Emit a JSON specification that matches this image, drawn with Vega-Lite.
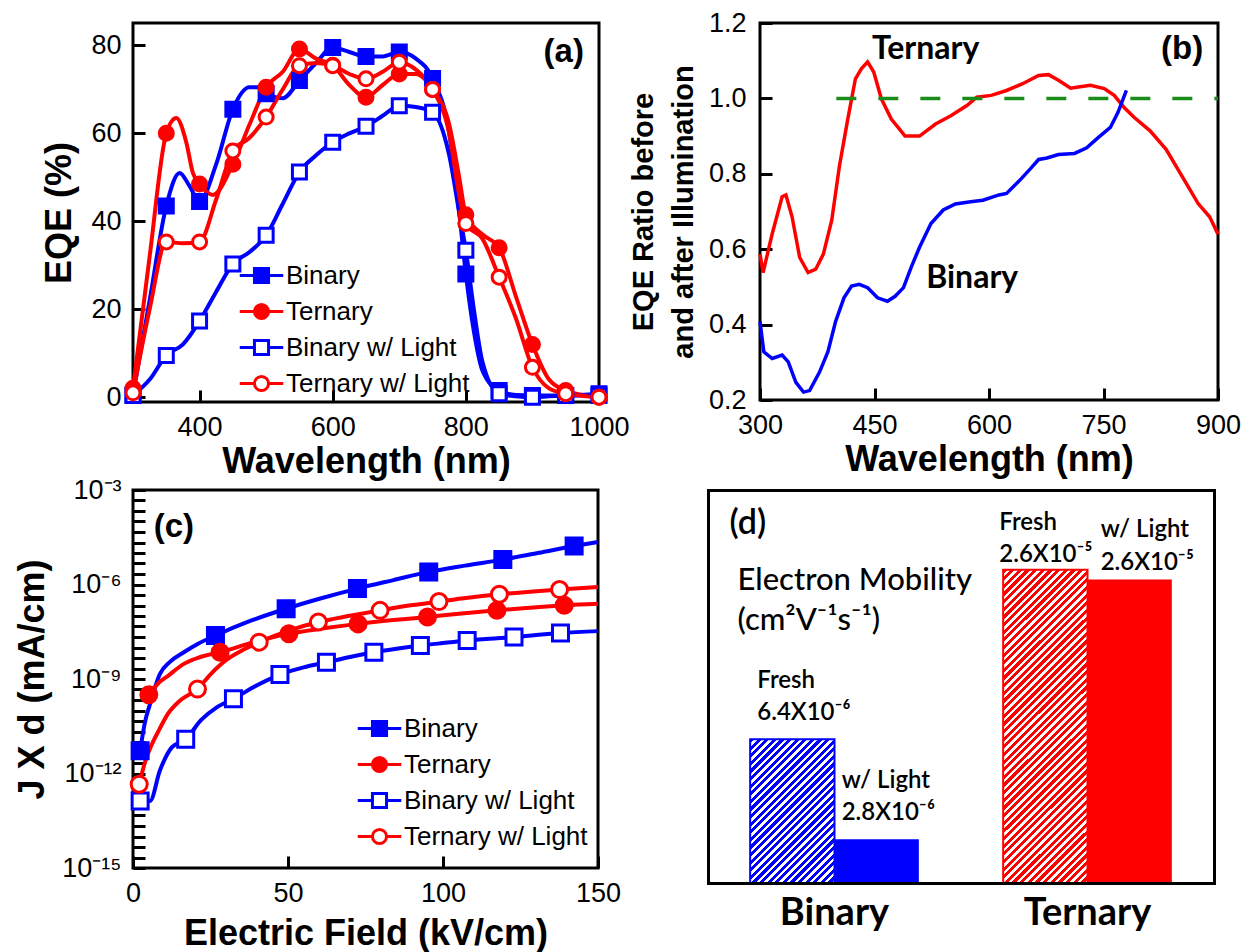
{
"$schema": "https://vega.github.io/schema/vega-lite/v6.json",
"padding": {"left": 13, "top": 7, "right": 5, "bottom": 5},
"background": "#ffffff",
"bounds": "flush",
"columns": 2,
"spacing": {"row": 88, "column": 161},
"resolve": {"scale": {"stroke": "independent", "color": "independent"}, "legend": {"stroke": "independent", "color": "independent"}},
"datasets": {
"a": [
{"series":"Binary","wl":300,"eqe":0.5},{"series":"Binary","wl":325,"eqe":22},{"series":"Binary","wl":350,"eqe":43.5},{"series":"Binary","wl":370,"eqe":51},{"series":"Binary","wl":385,"eqe":48},{"series":"Binary","wl":400,"eqe":44.5},{"series":"Binary","wl":425,"eqe":53},{"series":"Binary","wl":450,"eqe":65.5},{"series":"Binary","wl":475,"eqe":70.5},{"series":"Binary","wl":490,"eqe":70.5},{"series":"Binary","wl":500,"eqe":69},{"series":"Binary","wl":525,"eqe":68},{"series":"Binary","wl":550,"eqe":72},{"series":"Binary","wl":575,"eqe":76},{"series":"Binary","wl":600,"eqe":79.5},{"series":"Binary","wl":625,"eqe":78.5},{"series":"Binary","wl":650,"eqe":77.5},{"series":"Binary","wl":675,"eqe":77.5},{"series":"Binary","wl":700,"eqe":78.5},{"series":"Binary","wl":725,"eqe":77},{"series":"Binary","wl":750,"eqe":72.5},{"series":"Binary","wl":775,"eqe":60},{"series":"Binary","wl":790,"eqe":42},{"series":"Binary","wl":800,"eqe":28},{"series":"Binary","wl":812,"eqe":15},{"series":"Binary","wl":825,"eqe":6},{"series":"Binary","wl":850,"eqe":1.5},{"series":"Binary","wl":875,"eqe":0.5},{"series":"Binary","wl":900,"eqe":0.4},{"series":"Binary","wl":950,"eqe":0.4},{"series":"Binary","wl":1000,"eqe":0.8},
{"series":"Ternary","wl":300,"eqe":2},{"series":"Ternary","wl":325,"eqe":32},{"series":"Ternary","wl":350,"eqe":60},{"series":"Ternary","wl":365,"eqe":63.5},{"series":"Ternary","wl":380,"eqe":58},{"series":"Ternary","wl":390,"eqe":51},{"series":"Ternary","wl":400,"eqe":48.5},{"series":"Ternary","wl":420,"eqe":46},{"series":"Ternary","wl":450,"eqe":53},{"series":"Ternary","wl":475,"eqe":62},{"series":"Ternary","wl":500,"eqe":70.5},{"series":"Ternary","wl":525,"eqe":74},{"series":"Ternary","wl":550,"eqe":79.2},{"series":"Ternary","wl":575,"eqe":77},{"series":"Ternary","wl":600,"eqe":75.5},{"series":"Ternary","wl":625,"eqe":71},{"series":"Ternary","wl":650,"eqe":68.2},{"series":"Ternary","wl":675,"eqe":71},{"series":"Ternary","wl":700,"eqe":73.5},{"series":"Ternary","wl":725,"eqe":73.5},{"series":"Ternary","wl":750,"eqe":70},{"series":"Ternary","wl":775,"eqe":62},{"series":"Ternary","wl":790,"eqe":50},{"series":"Ternary","wl":800,"eqe":41.5},{"series":"Ternary","wl":825,"eqe":37},{"series":"Ternary","wl":850,"eqe":34},{"series":"Ternary","wl":875,"eqe":23},{"series":"Ternary","wl":900,"eqe":12},{"series":"Ternary","wl":925,"eqe":4},{"series":"Ternary","wl":950,"eqe":1.5},{"series":"Ternary","wl":975,"eqe":0.5},{"series":"Ternary","wl":1000,"eqe":0},
{"series":"Binary w/ Light","wl":300,"eqe":0.4},{"series":"Binary w/ Light","wl":325,"eqe":4},{"series":"Binary w/ Light","wl":350,"eqe":9.5},{"series":"Binary w/ Light","wl":375,"eqe":12},{"series":"Binary w/ Light","wl":400,"eqe":17.3},{"series":"Binary w/ Light","wl":425,"eqe":24},{"series":"Binary w/ Light","wl":450,"eqe":30.3},{"series":"Binary w/ Light","wl":475,"eqe":33},{"series":"Binary w/ Light","wl":500,"eqe":36.8},{"series":"Binary w/ Light","wl":525,"eqe":44},{"series":"Binary w/ Light","wl":550,"eqe":51.2},{"series":"Binary w/ Light","wl":575,"eqe":55},{"series":"Binary w/ Light","wl":600,"eqe":58},{"series":"Binary w/ Light","wl":625,"eqe":60},{"series":"Binary w/ Light","wl":650,"eqe":61.6},{"series":"Binary w/ Light","wl":675,"eqe":64},{"series":"Binary w/ Light","wl":700,"eqe":66.3},{"series":"Binary w/ Light","wl":725,"eqe":66},{"series":"Binary w/ Light","wl":750,"eqe":64.8},{"series":"Binary w/ Light","wl":775,"eqe":55},{"series":"Binary w/ Light","wl":790,"eqe":42},{"series":"Binary w/ Light","wl":800,"eqe":33.4},{"series":"Binary w/ Light","wl":812,"eqe":20},{"series":"Binary w/ Light","wl":825,"eqe":8},{"series":"Binary w/ Light","wl":850,"eqe":0.8},{"series":"Binary w/ Light","wl":875,"eqe":0.2},{"series":"Binary w/ Light","wl":900,"eqe":0},{"series":"Binary w/ Light","wl":950,"eqe":0.4},{"series":"Binary w/ Light","wl":1000,"eqe":0.4},
{"series":"Ternary w/ Light","wl":300,"eqe":1},{"series":"Ternary w/ Light","wl":325,"eqe":20},{"series":"Ternary w/ Light","wl":350,"eqe":35.3},{"series":"Ternary w/ Light","wl":375,"eqe":35},{"series":"Ternary w/ Light","wl":400,"eqe":35.3},{"series":"Ternary w/ Light","wl":425,"eqe":45},{"series":"Ternary w/ Light","wl":450,"eqe":56},{"series":"Ternary w/ Light","wl":475,"eqe":59},{"series":"Ternary w/ Light","wl":500,"eqe":63.7},{"series":"Ternary w/ Light","wl":525,"eqe":70},{"series":"Ternary w/ Light","wl":550,"eqe":75.4},{"series":"Ternary w/ Light","wl":575,"eqe":76},{"series":"Ternary w/ Light","wl":600,"eqe":75.4},{"series":"Ternary w/ Light","wl":625,"eqe":73.5},{"series":"Ternary w/ Light","wl":650,"eqe":72.4},{"series":"Ternary w/ Light","wl":675,"eqe":74},{"series":"Ternary w/ Light","wl":700,"eqe":76.2},{"series":"Ternary w/ Light","wl":725,"eqe":74.5},{"series":"Ternary w/ Light","wl":750,"eqe":70},{"series":"Ternary w/ Light","wl":775,"eqe":60},{"series":"Ternary w/ Light","wl":790,"eqe":46},{"series":"Ternary w/ Light","wl":800,"eqe":39.5},{"series":"Ternary w/ Light","wl":825,"eqe":36},{"series":"Ternary w/ Light","wl":850,"eqe":27.3},{"series":"Ternary w/ Light","wl":875,"eqe":18},{"series":"Ternary w/ Light","wl":900,"eqe":6.8},{"series":"Ternary w/ Light","wl":925,"eqe":2},{"series":"Ternary w/ Light","wl":950,"eqe":0.8},{"series":"Ternary w/ Light","wl":1000,"eqe":0}
],
"b": [
{"series":"Ternary","wl":300,"r":0.587},{"series":"Ternary","wl":304,"r":0.538},{"series":"Ternary","wl":316,"r":0.641},{"series":"Ternary","wl":329,"r":0.739},{"series":"Ternary","wl":334,"r":0.744},{"series":"Ternary","wl":342,"r":0.686},{"series":"Ternary","wl":352,"r":0.578},{"series":"Ternary","wl":363,"r":0.538},{"series":"Ternary","wl":373,"r":0.547},{"series":"Ternary","wl":383,"r":0.587},{"series":"Ternary","wl":394,"r":0.677},{"series":"Ternary","wl":404,"r":0.82},{"series":"Ternary","wl":415,"r":0.945},{"series":"Ternary","wl":425,"r":1.052},{"series":"Ternary","wl":433,"r":1.079},{"series":"Ternary","wl":441,"r":1.097},{"series":"Ternary","wl":449,"r":1.07},{"series":"Ternary","wl":459,"r":0.999},{"series":"Ternary","wl":472,"r":0.945},{"series":"Ternary","wl":483,"r":0.918},{"series":"Ternary","wl":490,"r":0.9},{"series":"Ternary","wl":509,"r":0.9},{"series":"Ternary","wl":530,"r":0.932},{"series":"Ternary","wl":550,"r":0.954},{"series":"Ternary","wl":571,"r":0.981},{"series":"Ternary","wl":584,"r":1.003},{"series":"Ternary","wl":603,"r":1.008},{"series":"Ternary","wl":623,"r":1.021},{"series":"Ternary","wl":644,"r":1.039},{"series":"Ternary","wl":665,"r":1.061},{"series":"Ternary","wl":678,"r":1.063},{"series":"Ternary","wl":691,"r":1.048},{"series":"Ternary","wl":707,"r":1.027},{"series":"Ternary","wl":717,"r":1.03},{"series":"Ternary","wl":733,"r":1.035},{"series":"Ternary","wl":751,"r":1.026},{"series":"Ternary","wl":764,"r":1.008},{"series":"Ternary","wl":777,"r":0.976},{"series":"Ternary","wl":790,"r":0.95},{"series":"Ternary","wl":811,"r":0.914},{"series":"Ternary","wl":832,"r":0.865},{"series":"Ternary","wl":853,"r":0.793},{"series":"Ternary","wl":874,"r":0.721},{"series":"Ternary","wl":889,"r":0.686},{"series":"Ternary","wl":900,"r":0.64},
{"series":"Binary","wl":300,"r":0.408},{"series":"Binary","wl":305,"r":0.328},{"series":"Binary","wl":316,"r":0.31},{"series":"Binary","wl":329,"r":0.319},{"series":"Binary","wl":337,"r":0.301},{"series":"Binary","wl":347,"r":0.247},{"series":"Binary","wl":357,"r":0.221},{"series":"Binary","wl":365,"r":0.225},{"series":"Binary","wl":378,"r":0.274},{"series":"Binary","wl":389,"r":0.328},{"series":"Binary","wl":399,"r":0.408},{"series":"Binary","wl":410,"r":0.471},{"series":"Binary","wl":420,"r":0.502},{"series":"Binary","wl":430,"r":0.507},{"series":"Binary","wl":441,"r":0.498},{"series":"Binary","wl":454,"r":0.471},{"series":"Binary","wl":467,"r":0.462},{"series":"Binary","wl":477,"r":0.475},{"series":"Binary","wl":488,"r":0.498},{"series":"Binary","wl":498,"r":0.552},{"series":"Binary","wl":509,"r":0.605},{"series":"Binary","wl":524,"r":0.668},{"series":"Binary","wl":540,"r":0.704},{"series":"Binary","wl":556,"r":0.72},{"series":"Binary","wl":576,"r":0.726},{"series":"Binary","wl":592,"r":0.73},{"series":"Binary","wl":613,"r":0.744},{"series":"Binary","wl":623,"r":0.748},{"series":"Binary","wl":639,"r":0.78},{"series":"Binary","wl":655,"r":0.815},{"series":"Binary","wl":665,"r":0.838},{"series":"Binary","wl":676,"r":0.842},{"series":"Binary","wl":691,"r":0.851},{"series":"Binary","wl":712,"r":0.854},{"series":"Binary","wl":728,"r":0.869},{"series":"Binary","wl":743,"r":0.896},{"series":"Binary","wl":759,"r":0.923},{"series":"Binary","wl":769,"r":0.963},{"series":"Binary","wl":780,"r":1.021}
],
"c_line": [
{"series":"Binary","e":2.3,"j":5.25e-12},{"series":"Binary","e":3.8,"j":3.98e-11},{"series":"Binary","e":5.5,"j":1.62e-10},{"series":"Binary","e":8.7,"j":1.45e-9},{"series":"Binary","e":12,"j":3.55e-9},{"series":"Binary","e":16.4,"j":7.08e-9},{"series":"Binary","e":21,"j":1.32e-8},{"series":"Binary","e":26.6,"j":2.4e-8},{"series":"Binary","e":38,"j":7.08e-8},{"series":"Binary","e":49.4,"j":1.7e-7},{"series":"Binary","e":61,"j":3.72e-7},{"series":"Binary","e":72.4,"j":7.41e-7},{"series":"Binary","e":84,"j":1.38e-6},{"series":"Binary","e":95.4,"j":2.51e-6},{"series":"Binary","e":107,"j":3.98e-6},{"series":"Binary","e":119.3,"j":6.17e-6},{"series":"Binary","e":131,"j":1.02e-5},{"series":"Binary","e":142.3,"j":1.66e-5},{"series":"Binary","e":150,"j":2.24e-5},
{"series":"Ternary","e":5.1,"j":3.16e-10},{"series":"Ternary","e":8,"j":7.08e-10},{"series":"Ternary","e":11.3,"j":1.26e-9},{"series":"Ternary","e":16.4,"j":3.02e-9},{"series":"Ternary","e":21.5,"j":4.9e-9},{"series":"Ternary","e":28.1,"j":7.08e-9},{"series":"Ternary","e":39,"j":1.48e-8},{"series":"Ternary","e":50.3,"j":2.75e-8},{"series":"Ternary","e":61,"j":3.98e-8},{"series":"Ternary","e":72.6,"j":5.62e-8},{"series":"Ternary","e":84,"j":7.41e-8},{"series":"Ternary","e":95,"j":9.33e-8},{"series":"Ternary","e":106,"j":1.2e-7},{"series":"Ternary","e":117.4,"j":1.51e-7},{"series":"Ternary","e":128,"j":1.82e-7},{"series":"Ternary","e":139.1,"j":2.19e-7},{"series":"Ternary","e":150,"j":2.45e-7},
{"series":"Binary w/ Light","e":2.3,"j":1.35e-13},{"series":"Binary w/ Light","e":5.5,"j":1.35e-13},{"series":"Binary w/ Light","e":8.7,"j":1.26e-12},{"series":"Binary w/ Light","e":12.5,"j":6.76e-12},{"series":"Binary w/ Light","e":17,"j":1.23e-11},{"series":"Binary w/ Light","e":22,"j":5.01e-11},{"series":"Binary w/ Light","e":27,"j":1.26e-10},{"series":"Binary w/ Light","e":32.4,"j":2.34e-10},{"series":"Binary w/ Light","e":40,"j":6.31e-10},{"series":"Binary w/ Light","e":47.4,"j":1.38e-9},{"series":"Binary w/ Light","e":55,"j":2.34e-9},{"series":"Binary w/ Light","e":62.4,"j":3.39e-9},{"series":"Binary w/ Light","e":70,"j":5.01e-9},{"series":"Binary w/ Light","e":77.7,"j":7.08e-9},{"series":"Binary w/ Light","e":85,"j":9.12e-9},{"series":"Binary w/ Light","e":92.7,"j":1.15e-8},{"series":"Binary w/ Light","e":100,"j":1.38e-8},{"series":"Binary w/ Light","e":107.8,"j":1.66e-8},{"series":"Binary w/ Light","e":115,"j":1.91e-8},{"series":"Binary w/ Light","e":122.9,"j":2.14e-8},{"series":"Binary w/ Light","e":130,"j":2.51e-8},{"series":"Binary w/ Light","e":137.9,"j":2.88e-8},{"series":"Binary w/ Light","e":150,"j":3.31e-8},
{"series":"Ternary w/ Light","e":2,"j":4.57e-13},{"series":"Ternary w/ Light","e":4,"j":2.51e-12},{"series":"Ternary w/ Light","e":6.1,"j":8.51e-12},{"series":"Ternary w/ Light","e":8.5,"j":2.51e-11},{"series":"Ternary w/ Light","e":11.3,"j":7.94e-11},{"series":"Ternary w/ Light","e":15,"j":2e-10},{"series":"Ternary w/ Light","e":20.8,"j":4.79e-10},{"series":"Ternary w/ Light","e":25,"j":1.41e-9},{"series":"Ternary w/ Light","e":30,"j":3.98e-9},{"series":"Ternary w/ Light","e":35,"j":7.94e-9},{"series":"Ternary w/ Light","e":40.7,"j":1.48e-8},{"series":"Ternary w/ Light","e":50,"j":3.39e-8},{"series":"Ternary w/ Light","e":59.8,"j":6.46e-8},{"series":"Ternary w/ Light","e":70,"j":1.02e-7},{"series":"Ternary w/ Light","e":79.7,"j":1.51e-7},{"series":"Ternary w/ Light","e":89,"j":2.14e-7},{"series":"Ternary w/ Light","e":98.7,"j":2.88e-7},{"series":"Ternary w/ Light","e":108,"j":3.8e-7},{"series":"Ternary w/ Light","e":118.2,"j":4.9e-7},{"series":"Ternary w/ Light","e":128,"j":5.89e-7},{"series":"Ternary w/ Light","e":137.6,"j":6.92e-7},{"series":"Ternary w/ Light","e":150,"j":8.32e-7}
],
"c_pts": [
{"series":"Binary","e":2.3,"j":5.25e-12},{"series":"Binary","e":26.6,"j":2.4e-8},{"series":"Binary","e":49.4,"j":1.7e-7},{"series":"Binary","e":72.4,"j":7.41e-7},{"series":"Binary","e":95.4,"j":2.51e-6},{"series":"Binary","e":119.3,"j":6.17e-6},{"series":"Binary","e":142.3,"j":1.66e-5},
{"series":"Ternary","e":5.1,"j":3.16e-10},{"series":"Ternary","e":28.1,"j":7.08e-9},{"series":"Ternary","e":50.3,"j":2.75e-8},{"series":"Ternary","e":72.6,"j":5.62e-8},{"series":"Ternary","e":95,"j":9.33e-8},{"series":"Ternary","e":117.4,"j":1.51e-7},{"series":"Ternary","e":139.1,"j":2.19e-7},
{"series":"Binary w/ Light","e":2.3,"j":1.35e-13},{"series":"Binary w/ Light","e":17,"j":1.23e-11},{"series":"Binary w/ Light","e":32.4,"j":2.34e-10},{"series":"Binary w/ Light","e":47.4,"j":1.38e-9},{"series":"Binary w/ Light","e":62.4,"j":3.39e-9},{"series":"Binary w/ Light","e":77.7,"j":7.08e-9},{"series":"Binary w/ Light","e":92.7,"j":1.15e-8},{"series":"Binary w/ Light","e":107.8,"j":1.66e-8},{"series":"Binary w/ Light","e":122.9,"j":2.14e-8},{"series":"Binary w/ Light","e":137.9,"j":2.88e-8},
{"series":"Ternary w/ Light","e":2,"j":4.57e-13},{"series":"Ternary w/ Light","e":20.8,"j":4.79e-10},{"series":"Ternary w/ Light","e":40.7,"j":1.48e-8},{"series":"Ternary w/ Light","e":59.8,"j":6.46e-8},{"series":"Ternary w/ Light","e":79.7,"j":1.51e-7},{"series":"Ternary w/ Light","e":98.7,"j":2.88e-7},{"series":"Ternary w/ Light","e":118.2,"j":4.9e-7},{"series":"Ternary w/ Light","e":137.6,"j":6.92e-7}
],
"d": [
{"group":"Binary","cond":"Fresh","mu":6.4e-6,"label":"Fresh\n6.4X10⁻⁶"},
{"group":"Binary","cond":"w/ Light","mu":2.8e-6,"label":"w/ Light\n2.8X10⁻⁶"},
{"group":"Ternary","cond":"Fresh","mu":2.6e-5,"label":"Fresh\n2.6X10⁻⁵"},
{"group":"Ternary","cond":"w/ Light","mu":2.4e-5,"label":"w/ Light\n2.6X10⁻⁵"}
]
},
"concat": [
{
"width": 466, "height": 379,
"data": {"name": "a"},
"layer": [
{"mark": {"type": "line", "interpolate": "monotone", "strokeWidth": 4},
"encoding": {
"x": {"field": "wl", "type": "quantitative", "scale": {"domain": [300, 1000], "nice": false, "zero": false}, "axis": {"values": [400, 600, 800, 1000], "format": "d", "title": "Wavelength (nm)", "titlePadding": 4, "labelPadding": 12, "ticks": true, "tickSize": 12, "tickWidth": 3, "tickColor": "#000000", "encode": {"ticks": {"update": {"stroke": {"value": "#000000"}, "strokeWidth": {"value": 3}, "strokeOpacity": {"value": 1}, "opacity": {"value": 1}}}}}},
"y": {"field": "eqe", "type": "quantitative", "scale": {"domain": [-1.1, 85.1], "nice": false, "zero": false}, "axis": {"values": [0, 20, 40, 60, 80], "title": "EQE (%)", "titlePadding": 12, "labelPadding": 12, "ticks": true, "tickSize": 12, "tickWidth": 3, "tickColor": "#000000", "encode": {"ticks": {"update": {"stroke": {"value": "#000000"}, "strokeWidth": {"value": 3}, "strokeOpacity": {"value": 1}, "opacity": {"value": 1}}}}}},
"stroke": {"field": "series", "type": "nominal", "scale": {"domain": ["Binary", "Ternary", "Binary w/ Light", "Ternary w/ Light"], "range": ["#0000ff", "#ff0000", "#0000ff", "#ff0000"]},
"legend": {"orient": "none", "legendX": 112, "legendY": 236, "title": null, "labelFont": "Liberation Sans", "labelFontSize": 26, "labelColor": "#000000", "labelLimit": 400, "symbolSize": 900, "symbolStrokeWidth": 3, "labelOffset": 8, "rowPadding": 6, "padding": 0,
"encode": {"symbols": {"update": {
"shape": {"signal": "indexof(datum.value, 'Binary') === 0 ? 'M-1.45,0H-0.47M0.47,0H1.45M-0.47,-0.47H0.47V0.47H-0.47Z' : 'M-1.45,0H-0.47M0.47,0H1.45M0.47,0A0.47,0.47,0,1,1,-0.47,0A0.47,0.47,0,1,1,0.47,0Z'"},
"fill": {"signal": "datum.value === 'Binary' ? '#0000ff' : datum.value === 'Ternary' ? '#ff0000' : '#ffffff'"},
"stroke": {"signal": "indexof(datum.value, 'Binary') === 0 ? '#0000ff' : '#ff0000'"},
"strokeWidth": {"value": 3}, "opacity": {"value": 1}, "fillOpacity": {"value": 1}}}}}}
}},
{"transform": [{"filter": "datum.wl % 50 === 0 && datum.series === 'Binary'"}],
"mark": {"type": "point", "shape": "square", "size": 196, "strokeWidth": 3, "opacity": 1, "filled": true, "fill": "#0000ff", "stroke": "#0000ff"},
"encoding": {"x": {"field": "wl", "type": "quantitative"}, "y": {"field": "eqe", "type": "quantitative"}}},
{"transform": [{"filter": "datum.wl % 50 === 0 && datum.series === 'Binary w/ Light'"}],
"mark": {"type": "point", "shape": "square", "size": 196, "strokeWidth": 3, "opacity": 1, "filled": true, "fill": "#ffffff", "stroke": "#0000ff"},
"encoding": {"x": {"field": "wl", "type": "quantitative"}, "y": {"field": "eqe", "type": "quantitative"}}},
{"transform": [{"filter": "datum.wl % 50 === 0 && datum.series === 'Ternary'"}],
"mark": {"type": "point", "shape": "circle", "size": 196, "strokeWidth": 3, "opacity": 1, "filled": true, "fill": "#ff0000", "stroke": "#ff0000"},
"encoding": {"x": {"field": "wl", "type": "quantitative"}, "y": {"field": "eqe", "type": "quantitative"}}},
{"transform": [{"filter": "datum.wl % 50 === 0 && datum.series === 'Ternary w/ Light'"}],
"mark": {"type": "point", "shape": "circle", "size": 196, "strokeWidth": 3, "opacity": 1, "filled": true, "fill": "#ffffff", "stroke": "#ff0000"},
"encoding": {"x": {"field": "wl", "type": "quantitative"}, "y": {"field": "eqe", "type": "quantitative"}}},
{"data": {"values": [{}]},
"mark": {"type": "text", "font": "Liberation Sans", "fontSize": 33, "fontWeight": "bold", "align": "center", "baseline": "middle"},
"encoding": {"x": {"datum": 947, "type": "quantitative"}, "y": {"datum": 78.5, "type": "quantitative"}, "text": {"value": "(a)"}}}
]
},
{
"width": 458, "height": 377,
"data": {"name": "b"},
"layer": [
{"mark": {"type": "line", "strokeWidth": 3.5},
"encoding": {
"x": {"field": "wl", "type": "quantitative", "scale": {"domain": [300, 900], "nice": false, "zero": false}, "axis": {"values": [300, 450, 600, 750, 900], "title": "Wavelength (nm)", "titlePadding": 4, "labelPadding": 12, "ticks": true, "tickSize": 12, "tickWidth": 3, "tickColor": "#000000", "encode": {"ticks": {"update": {"stroke": {"value": "#000000"}, "strokeWidth": {"value": 3}, "strokeOpacity": {"value": 1}, "opacity": {"value": 1}}}}}},
"y": {"field": "r", "type": "quantitative", "scale": {"domain": [0.2, 1.2], "nice": false, "zero": false}, "axis": {"values": [0.2, 0.4, 0.6, 0.8, 1.0, 1.2], "format": ".1f", "title": ["EQE Ratio before", "and after Illumination"], "titleFontSize": 29, "titleLineHeight": 40, "titlePadding": 10, "labelPadding": 14, "ticks": true, "tickSize": 12, "tickWidth": 3, "tickColor": "#000000", "encode": {"ticks": {"update": {"stroke": {"value": "#000000"}, "strokeWidth": {"value": 3}, "strokeOpacity": {"value": 1}, "opacity": {"value": 1}}}}}},
"stroke": {"field": "series", "type": "nominal", "scale": {"domain": ["Ternary", "Binary"], "range": ["#ff0000", "#0000ff"]}, "legend": null}
}},
{"data": {"values": [{}]},
"mark": {"type": "rule", "strokeDash": [20, 22], "strokeWidth": 3.5, "color": "#1a8c1a"},
"encoding": {"x": {"datum": 400, "type": "quantitative"}, "x2": {"datum": 900}, "y": {"datum": 1, "type": "quantitative"}}},
{"data": {"values": [{}]},
"mark": {"type": "text", "font": "Lato", "fontSize": 32, "fontWeight": "bold", "align": "center", "baseline": "middle"},
"encoding": {"x": {"datum": 517, "type": "quantitative"}, "y": {"datum": 1.13, "type": "quantitative"}, "text": {"value": "Ternary"}}},
{"data": {"values": [{}]},
"mark": {"type": "text", "font": "Lato", "fontSize": 32, "fontWeight": "bold", "align": "center", "baseline": "middle"},
"encoding": {"x": {"datum": 578, "type": "quantitative"}, "y": {"datum": 0.524, "type": "quantitative"}, "text": {"value": "Binary"}}},
{"data": {"values": [{}]},
"mark": {"type": "text", "font": "Liberation Sans", "fontSize": 33, "fontWeight": "bold", "align": "center", "baseline": "middle"},
"encoding": {"x": {"datum": 853, "type": "quantitative"}, "y": {"datum": 1.13, "type": "quantitative"}, "text": {"value": "(b)"}}}
]
},
{
"width": 465, "height": 378,
"layer": [
{"data": {"name": "c_line"},
"mark": {"type": "line", "interpolate": "monotone", "strokeWidth": 4},
"encoding": {
"x": {"field": "e", "type": "quantitative", "scale": {"domain": [0, 150], "nice": false, "zero": false}, "axis": {"values": [0, 50, 100, 150], "title": "Electric Field (kV/cm)", "titlePadding": 10, "labelPadding": 12, "ticks": true, "tickSize": 12, "tickWidth": 3, "tickColor": "#000000", "encode": {"ticks": {"update": {"stroke": {"value": "#000000"}, "strokeWidth": {"value": 3}, "strokeOpacity": {"value": 1}, "opacity": {"value": 1}}}}}},
"y": {"field": "j", "type": "quantitative", "scale": {"type": "log", "domain": [1e-15, 1e-3], "nice": false}, "axis": {"values": [1e-15, 2.1544e-15, 4.6416e-15, 1e-14, 2.1544e-14, 4.6416e-14, 1e-13, 2.1544e-13, 4.6416e-13, 1e-12, 2.1544e-12, 4.6416e-12, 1e-11, 2.1544e-11, 4.6416e-11, 1e-10, 2.1544e-10, 4.6416e-10, 1e-9, 2.1544e-9, 4.6416e-9, 1e-8, 2.1544e-8, 4.6416e-8, 1e-7, 2.1544e-7, 4.6416e-7, 1e-6, 2.1544e-6, 4.6416e-6, 1e-5, 2.1544e-5, 4.6416e-5, 1e-4, 2.1544e-4, 4.6416e-4, 1e-3], "labelExpr": "datum.value > 9e-4 ? '10⁻³' : (datum.value > 9e-7 && datum.value < 1.1e-6) ? '10⁻⁶' : (datum.value > 9e-10 && datum.value < 1.1e-9) ? '10⁻⁹' : (datum.value > 9e-13 && datum.value < 1.1e-12) ? '10⁻¹²' : (datum.value < 1.1e-15) ? '10⁻¹⁵' : ''", "title": "J X d (mA/cm)", "titlePadding": 10, "labelPadding": 12, "ticks": true, "tickSize": 12, "tickWidth": 3, "tickColor": "#000000", "encode": {"ticks": {"update": {"stroke": {"value": "#000000"}, "strokeWidth": {"value": 3}, "strokeOpacity": {"value": 1}, "opacity": {"value": 1}}}}}},
"stroke": {"field": "series", "type": "nominal", "scale": {"domain": ["Binary", "Ternary", "Binary w/ Light", "Ternary w/ Light"], "range": ["#0000ff", "#ff0000", "#0000ff", "#ff0000"]},
"legend": {"orient": "none", "legendX": 230, "legendY": 222, "title": null, "labelFont": "Liberation Sans", "labelFontSize": 26, "labelColor": "#000000", "labelLimit": 400, "symbolSize": 900, "symbolStrokeWidth": 3, "labelOffset": 8, "rowPadding": 6, "padding": 0,
"encode": {"symbols": {"update": {
"shape": {"signal": "indexof(datum.value, 'Binary') === 0 ? 'M-1.45,0H-0.47M0.47,0H1.45M-0.47,-0.47H0.47V0.47H-0.47Z' : 'M-1.45,0H-0.47M0.47,0H1.45M0.47,0A0.47,0.47,0,1,1,-0.47,0A0.47,0.47,0,1,1,0.47,0Z'"},
"fill": {"signal": "datum.value === 'Binary' ? '#0000ff' : datum.value === 'Ternary' ? '#ff0000' : '#ffffff'"},
"stroke": {"signal": "indexof(datum.value, 'Binary') === 0 ? '#0000ff' : '#ff0000'"},
"strokeWidth": {"value": 3}, "opacity": {"value": 1}, "fillOpacity": {"value": 1}}}}}}
}},
{"data": {"name": "c_pts"},
"transform": [{"filter": "datum.series === 'Binary'"}],
"mark": {"type": "point", "shape": "square", "size": 256, "strokeWidth": 3, "opacity": 1, "filled": true, "fill": "#0000ff", "stroke": "#0000ff"},
"encoding": {"x": {"field": "e", "type": "quantitative"}, "y": {"field": "j", "type": "quantitative"}}},
{"data": {"name": "c_pts"},
"transform": [{"filter": "datum.series === 'Binary w/ Light'"}],
"mark": {"type": "point", "shape": "square", "size": 256, "strokeWidth": 3, "opacity": 1, "filled": true, "fill": "#ffffff", "stroke": "#0000ff"},
"encoding": {"x": {"field": "e", "type": "quantitative"}, "y": {"field": "j", "type": "quantitative"}}},
{"data": {"name": "c_pts"},
"transform": [{"filter": "datum.series === 'Ternary'"}],
"mark": {"type": "point", "shape": "circle", "size": 256, "strokeWidth": 3, "opacity": 1, "filled": true, "fill": "#ff0000", "stroke": "#ff0000"},
"encoding": {"x": {"field": "e", "type": "quantitative"}, "y": {"field": "j", "type": "quantitative"}}},
{"data": {"name": "c_pts"},
"transform": [{"filter": "datum.series === 'Ternary w/ Light'"}],
"mark": {"type": "point", "shape": "circle", "size": 256, "strokeWidth": 3, "opacity": 1, "filled": true, "fill": "#ffffff", "stroke": "#ff0000"},
"encoding": {"x": {"field": "e", "type": "quantitative"}, "y": {"field": "j", "type": "quantitative"}}},
{"data": {"values": [{}]},
"mark": {"type": "text", "font": "Liberation Sans", "fontSize": 33, "fontWeight": "bold", "align": "center", "baseline": "middle"},
"encoding": {"x": {"datum": 13.2, "type": "quantitative"}, "y": {"datum": 6.7e-5, "type": "quantitative"}, "text": {"value": "(c)"}}}
]
},
{
"width": 454, "height": 393,
"view": {"stroke": null},
"data": {"name": "d"},
"resolve": {"axis": {"x": "independent", "y": "independent"}},
"layer": [
{"transform": [{"filter": "datum.cond === 'w/ Light'"}],
"mark": {"type": "bar"},
"encoding": {
"x": {"field": "group", "type": "nominal", "scale": {"domain": ["Binary", "Ternary"], "range": [-52, 454], "paddingInner": 0, "paddingOuter": 0}, "axis": {"orient": "bottom", "offset": 0, "domain": true, "ticks": false, "tickSize": 0, "labels": true, "labelAngle": 0, "labelFont": "Lato", "labelFontSize": 38, "labelFontWeight": "bold", "labelPadding": 11, "title": null, "zindex": 2}},
"xOffset": {"field": "cond", "type": "nominal", "scale": {"domain": ["Fresh", "w/ Light"], "paddingInner": 0, "paddingOuter": 0.5}},
"y": {"field": "mu", "type": "quantitative", "scale": {"type": "log", "domain": [1.95e-6, 5.03e-5], "nice": false}, "axis": {"orient": "left", "offset": 52, "domain": true, "ticks": false, "tickSize": 0, "labels": false, "title": null, "zindex": 2}},
"y2": {"datum": 1.95e-6},
"color": {"field": "group", "type": "nominal", "scale": {"domain": ["Binary", "Ternary"], "range": ["#0000ff", "#ff0000"]}, "legend": null}
}},
{"transform": [{"filter": "datum.cond === 'Fresh' && datum.group === 'Binary'"}],
"mark": {"type": "bar", "stroke": "#0000ff", "strokeWidth": 2, "fill": {"gradient": "linear", "x1": 0, "y1": 0, "x2": 0.6925, "y2": 1.1804, "stops": [
{"offset":0,"color":"#00f"},{"offset":0.0183,"color":"#00f"},{"offset":0.0183,"color":"#fff"},{"offset":0.0333,"color":"#fff"},
{"offset":0.0333,"color":"#00f"},{"offset":0.0517,"color":"#00f"},{"offset":0.0517,"color":"#fff"},{"offset":0.0667,"color":"#fff"},
{"offset":0.0667,"color":"#00f"},{"offset":0.085,"color":"#00f"},{"offset":0.085,"color":"#fff"},{"offset":0.1,"color":"#fff"},
{"offset":0.1,"color":"#00f"},{"offset":0.1183,"color":"#00f"},{"offset":0.1183,"color":"#fff"},{"offset":0.1333,"color":"#fff"},
{"offset":0.1333,"color":"#00f"},{"offset":0.1517,"color":"#00f"},{"offset":0.1517,"color":"#fff"},{"offset":0.1667,"color":"#fff"},
{"offset":0.1667,"color":"#00f"},{"offset":0.185,"color":"#00f"},{"offset":0.185,"color":"#fff"},{"offset":0.2,"color":"#fff"},
{"offset":0.2,"color":"#00f"},{"offset":0.2183,"color":"#00f"},{"offset":0.2183,"color":"#fff"},{"offset":0.2333,"color":"#fff"},
{"offset":0.2333,"color":"#00f"},{"offset":0.2517,"color":"#00f"},{"offset":0.2517,"color":"#fff"},{"offset":0.2667,"color":"#fff"},
{"offset":0.2667,"color":"#00f"},{"offset":0.285,"color":"#00f"},{"offset":0.285,"color":"#fff"},{"offset":0.3,"color":"#fff"},
{"offset":0.3,"color":"#00f"},{"offset":0.3183,"color":"#00f"},{"offset":0.3183,"color":"#fff"},{"offset":0.3333,"color":"#fff"},
{"offset":0.3333,"color":"#00f"},{"offset":0.3517,"color":"#00f"},{"offset":0.3517,"color":"#fff"},{"offset":0.3667,"color":"#fff"},
{"offset":0.3667,"color":"#00f"},{"offset":0.385,"color":"#00f"},{"offset":0.385,"color":"#fff"},{"offset":0.4,"color":"#fff"},
{"offset":0.4,"color":"#00f"},{"offset":0.4183,"color":"#00f"},{"offset":0.4183,"color":"#fff"},{"offset":0.4333,"color":"#fff"},
{"offset":0.4333,"color":"#00f"},{"offset":0.4517,"color":"#00f"},{"offset":0.4517,"color":"#fff"},{"offset":0.4667,"color":"#fff"},
{"offset":0.4667,"color":"#00f"},{"offset":0.485,"color":"#00f"},{"offset":0.485,"color":"#fff"},{"offset":0.5,"color":"#fff"},
{"offset":0.5,"color":"#00f"},{"offset":0.5183,"color":"#00f"},{"offset":0.5183,"color":"#fff"},{"offset":0.5333,"color":"#fff"},
{"offset":0.5333,"color":"#00f"},{"offset":0.5517,"color":"#00f"},{"offset":0.5517,"color":"#fff"},{"offset":0.5667,"color":"#fff"},
{"offset":0.5667,"color":"#00f"},{"offset":0.585,"color":"#00f"},{"offset":0.585,"color":"#fff"},{"offset":0.6,"color":"#fff"},
{"offset":0.6,"color":"#00f"},{"offset":0.6183,"color":"#00f"},{"offset":0.6183,"color":"#fff"},{"offset":0.6333,"color":"#fff"},
{"offset":0.6333,"color":"#00f"},{"offset":0.6517,"color":"#00f"},{"offset":0.6517,"color":"#fff"},{"offset":0.6667,"color":"#fff"},
{"offset":0.6667,"color":"#00f"},{"offset":0.685,"color":"#00f"},{"offset":0.685,"color":"#fff"},{"offset":0.7,"color":"#fff"},
{"offset":0.7,"color":"#00f"},{"offset":0.7183,"color":"#00f"},{"offset":0.7183,"color":"#fff"},{"offset":0.7333,"color":"#fff"},
{"offset":0.7333,"color":"#00f"},{"offset":0.7517,"color":"#00f"},{"offset":0.7517,"color":"#fff"},{"offset":0.7667,"color":"#fff"},
{"offset":0.7667,"color":"#00f"},{"offset":0.785,"color":"#00f"},{"offset":0.785,"color":"#fff"},{"offset":0.8,"color":"#fff"},
{"offset":0.8,"color":"#00f"},{"offset":0.8183,"color":"#00f"},{"offset":0.8183,"color":"#fff"},{"offset":0.8333,"color":"#fff"},
{"offset":0.8333,"color":"#00f"},{"offset":0.8517,"color":"#00f"},{"offset":0.8517,"color":"#fff"},{"offset":0.8667,"color":"#fff"},
{"offset":0.8667,"color":"#00f"},{"offset":0.885,"color":"#00f"},{"offset":0.885,"color":"#fff"},{"offset":0.9,"color":"#fff"},
{"offset":0.9,"color":"#00f"},{"offset":0.9183,"color":"#00f"},{"offset":0.9183,"color":"#fff"},{"offset":0.9333,"color":"#fff"},
{"offset":0.9333,"color":"#00f"},{"offset":0.9517,"color":"#00f"},{"offset":0.9517,"color":"#fff"},{"offset":0.9667,"color":"#fff"},
{"offset":0.9667,"color":"#00f"},{"offset":0.985,"color":"#00f"},{"offset":0.985,"color":"#fff"},{"offset":1,"color":"#fff"}
]}},
"encoding": {
"x": {"field": "group", "type": "nominal", "axis": {"orient": "top", "offset": 0, "domain": true, "ticks": false, "tickSize": 0, "labels": false, "title": null, "zindex": 2}},
"xOffset": {"field": "cond", "type": "nominal"},
"y": {"field": "mu", "type": "quantitative", "axis": {"orient": "right", "offset": 0, "domain": true, "ticks": false, "tickSize": 0, "labels": false, "title": null, "zindex": 2}},
"y2": {"datum": 1.95e-6}
}},
{"transform": [{"filter": "datum.cond === 'Fresh' && datum.group === 'Ternary'"}],
"mark": {"type": "bar", "stroke": "#ff0000", "strokeWidth": 2, "fill": {"gradient": "linear", "x1": 0, "y1": 0, "x2": 0.3181, "y2": 1.1833, "stops": [
{"offset":0,"color":"#f00"},{"offset":0.0106,"color":"#f00"},{"offset":0.0106,"color":"#fff"},{"offset":0.0192,"color":"#fff"},
{"offset":0.0192,"color":"#f00"},{"offset":0.0298,"color":"#f00"},{"offset":0.0298,"color":"#fff"},{"offset":0.0385,"color":"#fff"},
{"offset":0.0385,"color":"#f00"},{"offset":0.049,"color":"#f00"},{"offset":0.049,"color":"#fff"},{"offset":0.0577,"color":"#fff"},
{"offset":0.0577,"color":"#f00"},{"offset":0.0683,"color":"#f00"},{"offset":0.0683,"color":"#fff"},{"offset":0.0769,"color":"#fff"},
{"offset":0.0769,"color":"#f00"},{"offset":0.0875,"color":"#f00"},{"offset":0.0875,"color":"#fff"},{"offset":0.0962,"color":"#fff"},
{"offset":0.0962,"color":"#f00"},{"offset":0.1067,"color":"#f00"},{"offset":0.1067,"color":"#fff"},{"offset":0.1154,"color":"#fff"},
{"offset":0.1154,"color":"#f00"},{"offset":0.126,"color":"#f00"},{"offset":0.126,"color":"#fff"},{"offset":0.1346,"color":"#fff"},
{"offset":0.1346,"color":"#f00"},{"offset":0.1452,"color":"#f00"},{"offset":0.1452,"color":"#fff"},{"offset":0.1538,"color":"#fff"},
{"offset":0.1538,"color":"#f00"},{"offset":0.1644,"color":"#f00"},{"offset":0.1644,"color":"#fff"},{"offset":0.1731,"color":"#fff"},
{"offset":0.1731,"color":"#f00"},{"offset":0.1837,"color":"#f00"},{"offset":0.1837,"color":"#fff"},{"offset":0.1923,"color":"#fff"},
{"offset":0.1923,"color":"#f00"},{"offset":0.2029,"color":"#f00"},{"offset":0.2029,"color":"#fff"},{"offset":0.2115,"color":"#fff"},
{"offset":0.2115,"color":"#f00"},{"offset":0.2221,"color":"#f00"},{"offset":0.2221,"color":"#fff"},{"offset":0.2308,"color":"#fff"},
{"offset":0.2308,"color":"#f00"},{"offset":0.2413,"color":"#f00"},{"offset":0.2413,"color":"#fff"},{"offset":0.25,"color":"#fff"},
{"offset":0.25,"color":"#f00"},{"offset":0.2606,"color":"#f00"},{"offset":0.2606,"color":"#fff"},{"offset":0.2692,"color":"#fff"},
{"offset":0.2692,"color":"#f00"},{"offset":0.2798,"color":"#f00"},{"offset":0.2798,"color":"#fff"},{"offset":0.2885,"color":"#fff"},
{"offset":0.2885,"color":"#f00"},{"offset":0.299,"color":"#f00"},{"offset":0.299,"color":"#fff"},{"offset":0.3077,"color":"#fff"},
{"offset":0.3077,"color":"#f00"},{"offset":0.3183,"color":"#f00"},{"offset":0.3183,"color":"#fff"},{"offset":0.3269,"color":"#fff"},
{"offset":0.3269,"color":"#f00"},{"offset":0.3375,"color":"#f00"},{"offset":0.3375,"color":"#fff"},{"offset":0.3462,"color":"#fff"},
{"offset":0.3462,"color":"#f00"},{"offset":0.3567,"color":"#f00"},{"offset":0.3567,"color":"#fff"},{"offset":0.3654,"color":"#fff"},
{"offset":0.3654,"color":"#f00"},{"offset":0.376,"color":"#f00"},{"offset":0.376,"color":"#fff"},{"offset":0.3846,"color":"#fff"},
{"offset":0.3846,"color":"#f00"},{"offset":0.3952,"color":"#f00"},{"offset":0.3952,"color":"#fff"},{"offset":0.4038,"color":"#fff"},
{"offset":0.4038,"color":"#f00"},{"offset":0.4144,"color":"#f00"},{"offset":0.4144,"color":"#fff"},{"offset":0.4231,"color":"#fff"},
{"offset":0.4231,"color":"#f00"},{"offset":0.4337,"color":"#f00"},{"offset":0.4337,"color":"#fff"},{"offset":0.4423,"color":"#fff"},
{"offset":0.4423,"color":"#f00"},{"offset":0.4529,"color":"#f00"},{"offset":0.4529,"color":"#fff"},{"offset":0.4615,"color":"#fff"},
{"offset":0.4615,"color":"#f00"},{"offset":0.4721,"color":"#f00"},{"offset":0.4721,"color":"#fff"},{"offset":0.4808,"color":"#fff"},
{"offset":0.4808,"color":"#f00"},{"offset":0.4913,"color":"#f00"},{"offset":0.4913,"color":"#fff"},{"offset":0.5,"color":"#fff"},
{"offset":0.5,"color":"#f00"},{"offset":0.5106,"color":"#f00"},{"offset":0.5106,"color":"#fff"},{"offset":0.5192,"color":"#fff"},
{"offset":0.5192,"color":"#f00"},{"offset":0.5298,"color":"#f00"},{"offset":0.5298,"color":"#fff"},{"offset":0.5385,"color":"#fff"},
{"offset":0.5385,"color":"#f00"},{"offset":0.549,"color":"#f00"},{"offset":0.549,"color":"#fff"},{"offset":0.5577,"color":"#fff"},
{"offset":0.5577,"color":"#f00"},{"offset":0.5683,"color":"#f00"},{"offset":0.5683,"color":"#fff"},{"offset":0.5769,"color":"#fff"},
{"offset":0.5769,"color":"#f00"},{"offset":0.5875,"color":"#f00"},{"offset":0.5875,"color":"#fff"},{"offset":0.5962,"color":"#fff"},
{"offset":0.5962,"color":"#f00"},{"offset":0.6067,"color":"#f00"},{"offset":0.6067,"color":"#fff"},{"offset":0.6154,"color":"#fff"},
{"offset":0.6154,"color":"#f00"},{"offset":0.626,"color":"#f00"},{"offset":0.626,"color":"#fff"},{"offset":0.6346,"color":"#fff"},
{"offset":0.6346,"color":"#f00"},{"offset":0.6452,"color":"#f00"},{"offset":0.6452,"color":"#fff"},{"offset":0.6538,"color":"#fff"},
{"offset":0.6538,"color":"#f00"},{"offset":0.6644,"color":"#f00"},{"offset":0.6644,"color":"#fff"},{"offset":0.6731,"color":"#fff"},
{"offset":0.6731,"color":"#f00"},{"offset":0.6837,"color":"#f00"},{"offset":0.6837,"color":"#fff"},{"offset":0.6923,"color":"#fff"},
{"offset":0.6923,"color":"#f00"},{"offset":0.7029,"color":"#f00"},{"offset":0.7029,"color":"#fff"},{"offset":0.7115,"color":"#fff"},
{"offset":0.7115,"color":"#f00"},{"offset":0.7221,"color":"#f00"},{"offset":0.7221,"color":"#fff"},{"offset":0.7308,"color":"#fff"},
{"offset":0.7308,"color":"#f00"},{"offset":0.7413,"color":"#f00"},{"offset":0.7413,"color":"#fff"},{"offset":0.75,"color":"#fff"},
{"offset":0.75,"color":"#f00"},{"offset":0.7606,"color":"#f00"},{"offset":0.7606,"color":"#fff"},{"offset":0.7692,"color":"#fff"},
{"offset":0.7692,"color":"#f00"},{"offset":0.7798,"color":"#f00"},{"offset":0.7798,"color":"#fff"},{"offset":0.7885,"color":"#fff"},
{"offset":0.7885,"color":"#f00"},{"offset":0.799,"color":"#f00"},{"offset":0.799,"color":"#fff"},{"offset":0.8077,"color":"#fff"},
{"offset":0.8077,"color":"#f00"},{"offset":0.8183,"color":"#f00"},{"offset":0.8183,"color":"#fff"},{"offset":0.8269,"color":"#fff"},
{"offset":0.8269,"color":"#f00"},{"offset":0.8375,"color":"#f00"},{"offset":0.8375,"color":"#fff"},{"offset":0.8462,"color":"#fff"},
{"offset":0.8462,"color":"#f00"},{"offset":0.8567,"color":"#f00"},{"offset":0.8567,"color":"#fff"},{"offset":0.8654,"color":"#fff"},
{"offset":0.8654,"color":"#f00"},{"offset":0.876,"color":"#f00"},{"offset":0.876,"color":"#fff"},{"offset":0.8846,"color":"#fff"},
{"offset":0.8846,"color":"#f00"},{"offset":0.8952,"color":"#f00"},{"offset":0.8952,"color":"#fff"},{"offset":0.9038,"color":"#fff"},
{"offset":0.9038,"color":"#f00"},{"offset":0.9144,"color":"#f00"},{"offset":0.9144,"color":"#fff"},{"offset":0.9231,"color":"#fff"},
{"offset":0.9231,"color":"#f00"},{"offset":0.9337,"color":"#f00"},{"offset":0.9337,"color":"#fff"},{"offset":0.9423,"color":"#fff"},
{"offset":0.9423,"color":"#f00"},{"offset":0.9529,"color":"#f00"},{"offset":0.9529,"color":"#fff"},{"offset":0.9615,"color":"#fff"},
{"offset":0.9615,"color":"#f00"},{"offset":0.9721,"color":"#f00"},{"offset":0.9721,"color":"#fff"},{"offset":0.9808,"color":"#fff"},
{"offset":0.9808,"color":"#f00"},{"offset":0.9913,"color":"#f00"},{"offset":0.9913,"color":"#fff"},{"offset":1,"color":"#fff"}
]}},
"encoding": {
"x": {"field": "group", "type": "nominal", "axis": null},
"xOffset": {"field": "cond", "type": "nominal"},
"y": {"field": "mu", "type": "quantitative", "axis": null},
"y2": {"datum": 1.95e-6}
}},
{"transform": [{"filter": "datum.group === 'Binary'"}],
"mark": {"type": "text", "align": "left", "baseline": "bottom", "dx": -35, "dy": -46, "lineBreak": "\n", "font": "Lato", "fontSize": 24, "fontWeight": 600, "lineHeight": 32, "color": "#000000"},
"encoding": {
"x": {"field": "group", "type": "nominal", "axis": null},
"xOffset": {"field": "cond", "type": "nominal"},
"y": {"field": "mu", "type": "quantitative", "axis": null},
"text": {"field": "label", "type": "nominal"}
}},
{"transform": [{"filter": "datum.group === 'Ternary' && datum.cond === 'Fresh'"}],
"mark": {"type": "text", "align": "left", "baseline": "bottom", "dx": -46, "dy": -35, "lineBreak": "\n", "font": "Lato", "fontSize": 24, "fontWeight": 600, "lineHeight": 32, "color": "#000000"},
"encoding": {
"x": {"field": "group", "type": "nominal", "axis": null},
"xOffset": {"field": "cond", "type": "nominal"},
"y": {"field": "mu", "type": "quantitative", "axis": null},
"text": {"field": "label", "type": "nominal"}
}},
{"transform": [{"filter": "datum.group === 'Ternary' && datum.cond === 'w/ Light'"}],
"mark": {"type": "text", "align": "left", "baseline": "bottom", "dx": -29, "dy": -37, "lineBreak": "\n", "font": "Lato", "fontSize": 24, "fontWeight": 600, "lineHeight": 33, "color": "#000000"},
"encoding": {
"x": {"field": "group", "type": "nominal", "axis": null},
"xOffset": {"field": "cond", "type": "nominal"},
"y": {"field": "mu", "type": "quantitative", "axis": null},
"text": {"field": "label", "type": "nominal"}
}},
{"data": {"values": [{}]},
"mark": {"type": "text", "align": "left", "baseline": "middle", "dx": -97, "lineBreak": "\n", "font": "Lato", "fontSize": 31, "fontWeight": 500, "lineHeight": 40, "color": "#000000"},
"encoding": {"x": {"datum": "Binary", "type": "nominal", "axis": null}, "y": {"datum": 2.37e-5, "type": "quantitative", "axis": null}, "text": {"value": "Electron Mobility\n(cm²V⁻¹s⁻¹)"}}},
{"data": {"values": [{}]},
"mark": {"type": "text", "align": "left", "baseline": "middle", "dx": -105, "font": "Lato", "fontSize": 34, "fontWeight": 600, "color": "#000000"},
"encoding": {"x": {"datum": "Binary", "type": "nominal", "axis": null}, "y": {"datum": 3.8e-5, "type": "quantitative", "axis": null}, "text": {"value": "(d)"}}}
]
}
],
"config": {
"view": {"stroke": "#000000", "strokeWidth": 3},
"axis": {"domain": false, "grid": false, "ticks": true, "tickColor": "#000000", "tickWidth": 3, "tickSize": 12, "offset": -12, "zindex": 1, "labelFont": "Liberation Sans", "labelFontSize": 27, "labelColor": "#000000", "labelPadding": 12, "labelFlush": false, "labelOverlap": false, "titleFont": "Liberation Sans", "titleFontSize": 36, "titleFontWeight": "bold", "titleColor": "#000000", "domainColor": "#000000", "domainWidth": 3, "domainCap": "square"},
"text": {"color": "#000000"}
}
}
